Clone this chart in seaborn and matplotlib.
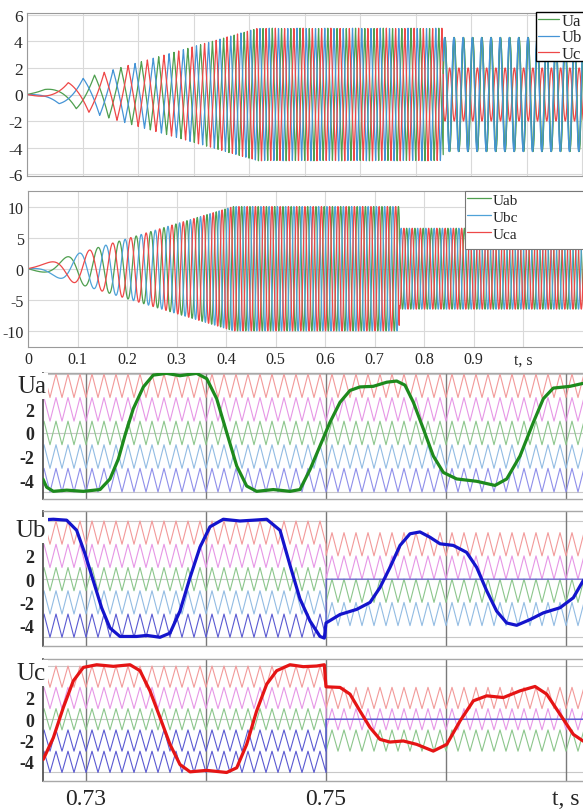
import numpy as np
import seaborn as sns
import matplotlib
matplotlib.use("Agg")
import matplotlib.pyplot as plt
from matplotlib.patches import Rectangle

# ---------------- values ----------------
ramp_end = 0.415      # s, V/f ramp ends (amplitude and frequency)
switch_t = 0.75       # s, disturbance
f_rated = 60.0        # Hz after the ramp

phase_names = ["Ua", "Ub", "Uc"]
phase_colors = ["#4f9f4f", "#4594d6", "#ee4848"]
phase_amp = [5.0, 5.0, 5.0]
phase_amp_after = [4.3, 4.3, 2.0]
phase_trough_cycle = [0.57, 0.24, 0.90]
phase_peak_cycle_after = [0.74, 0.70, 0.24]

line_names = ["Uab", "Ubc", "Uca"]
line_colors = ["#4f9f4f", "#4fa2d8", "#ee4848"]
line_amp = [10.0, 10.0, 10.0]
line_amp_after = [6.5, 6.5, 6.5]
line_peak_cycle = [0.45, 0.78, 0.115]

# PWM carriers of the lower panels (band = [low, low + 2])
carrier_colors = ["#f29a9a", "#e697e6", "#8cc68c", "#93bce3", "#8f8fea"]
carrier_freq = 1000.0
carrier_low_before = [3, 1, -1, -3, -5]
ua_carrier_low_after = [3, 1, -1, -3, -5]
ub_carrier_low_after = [2, 0, -2, -4, None]
uc_carrier_low_after = [1, -1, -3, None, None]

# reference waves (bold)
ua_t = [.7264, .72672, .72728, .72839, .72978, .73117, .732, .7327, .73325, .73394,
        .73478, .7356, .73672, .73783, .73922, .74006, .74089, .74172, .74256, .74339,
        .74422, .74561, .747, .74783, .74867, .7495, .75033, .75117, .752, .75283,
        .75394, .75506, .75589, .75658, .75728, .75811, .75894, .75978, .76089, .76256,
        .76408, .76506, .76617, .76728, .76811, .76894, .77033, .77142, .7725]
ua_v = [-3.9, -4.6, -4.95, -4.85, -4.95, -4.8, -3.9, -2.2, -0.2, 2.05,
        3.9, 4.9, 5.05, 4.85, 5.05, 4.6, 2.9, 0.05, -2.8, -4.5,
        -4.95, -4.8, -4.95, -4.8, -3.1, -1.1, 0.9, 2.6, 3.6, 3.9,
        3.95, 4.3, 4.4, 4.05, 2.6, 0.35, -1.95, -3.35, -3.9, -4.1,
        -4.45, -3.9, -1.95, 0.9, 2.9, 3.8, 3.95, 4.2, 4.3]

ub_t = [.7264, .72728, .72839, .72922, .72992, .73061, .7313, .732, .73283, .73422,
        .73506, .73617, .737, .73783, .73867, .7395, .74033, .74144, .74283, .74394,
        .74506, .74617, .747, .74783, .74867, .7495, .74986, .75, .75117, .75256,
        .75367, .7545, .75533, .75617, .757, .75783, .75867, .7595, .76061, .76172,
        .76256, .76339, .76422, .76506, .76589, .767, .76811, .7695, .77061, .77142, .7725]
ub_v = [5.1, 5.15, 5.07, 4.2, 2.17, -0.15, -2.46, -4.2, -4.93, -4.93,
        -4.84, -5.0, -4.64, -2.75, 0.14, 2.75, 4.5, 5.15, 5.0, 5.07,
        5.15, 4.2, 1.2, -1.7, -3.6, -4.93, -5.07, -3.77, -3.04, -2.6,
        -2.0, -0.72, 1.0, 2.9, 3.9, 4.06, 3.6, 3.04, 2.9, 2.3,
        1.0, -1.0, -2.75, -3.77, -3.97, -3.48, -2.9, -2.46, -1.6, -0.15, 1.0]

uc_t = [.72644, .72728, .72811, .72894, .72978, .73089, .73228, .73367, .7345, .73533,
        .73617, .737, .73783, .73867, .74006, .74172, .74256, .74339, .74422, .74506,
        .74589, .747, .74811, .74922, .74986, .75, .75117, .752, .75283, .75367,
        .7545, .75533, .75644, .75756, .75894, .76006, .76117, .76228, .76339, .76478,
        .76617, .76742, .76839, .7695, .77061, .77142, .7725]
uc_v = [-3.77, -1.73, 1.1, 3.6, 4.87, 5.12, 4.97, 5.12, 4.56, 2.67,
        0.16, -2.36, -4.25, -4.94, -4.8, -5.0, -4.56, -2.36, 0.78, 3.3,
        4.56, 5.12, 4.94, 5.0, 5.12, 3.05, 2.99, 2.36, 0.78, -0.78,
        -1.89, -2.14, -2.04, -2.36, -2.99, -2.36, -0.16, 1.73, 2.2, 2.04,
        2.67, 3.08, 2.36, 0.47, -1.42, -2.04, -2.6]

# ---------------- helpers ----------------
W, H = 583, 812


def px_axes(fig, left, top, right, bottom):
    return fig.add_axes([left / W, 1 - bottom / H, (right - left) / W, (bottom - top) / H])


def px_box(fig, left, top, right, bottom, edge, lw):
    # legend frame that runs past the right edge, as in the cropped original
    fig.patches.append(Rectangle((left / W, 1 - bottom / H), (right - left) / W, (bottom - top) / H,
                                 transform=fig.transFigure, facecolor="white", edgecolor=edge,
                                 linewidth=lw, zorder=20))


def cycles(t):
    return np.where(t < ramp_end, f_rated / (2 * ramp_end) * t ** 2, f_rated * (t - ramp_end / 2))


def ramp_env(t, amp, amp_after):
    return np.where(t < switch_t, amp * np.minimum(t / ramp_end, 1.0), amp_after)


def line(ax, x, y, **kw):
    sns.lineplot(x=x, y=y, ax=ax, estimator=None, sort=False, **kw)


sns.set_theme(style="white")
plt.rcParams["font.family"] = ["Liberation Serif", "DejaVu Serif"]

fig = plt.figure(figsize=(W / 100, H / 100), dpi=100)
grid_kw = dict(color="#d9d9d9", linewidth=0.8)
leg_kw = dict(loc="upper left", bbox_transform=fig.transFigure, frameon=False,
              borderpad=0, borderaxespad=0, handletextpad=0.15)

# ---------------- top: phase voltages ----------------
ax1 = px_axes(fig, 27, 14, 640, 177)
t1 = np.arange(0, 1.1, 5e-5)
n1 = cycles(t1)
sig1 = []
for i in range(3):
    tri = 1 - 4 * np.abs(((n1 - phase_trough_cycle[i]) % 1) - 0.5)
    sinus = np.cos(2 * np.pi * (n1 - phase_peak_cycle_after[i]))
    shape = np.where(t1 < switch_t, tri, sinus)
    sig1.append(ramp_env(t1, phase_amp[i], phase_amp_after[i]) * shape)
for i in range(3):
    line(ax1, t1, sig1[i], color=phase_colors[i], linewidth=0.9, label=phase_names[i])
after = t1 >= switch_t
for i in range(2):
    line(ax1, t1[after], sig1[i][after], color=phase_colors[i], linewidth=0.9)
ax1.set_xlim(0, (640 - 27) / 555)
ax1.set_ylim(-6.15, 6.15)
ax1.set_xticks(np.arange(0, 1.01, 0.1))
ax1.set_xticklabels([])
ax1.set_yticks(np.arange(-6, 7, 2))
ax1.set_yticklabels([str(v) for v in range(-6, 7, 2)], fontsize=12.5)
ax1.grid(True, **grid_kw)
ax1.tick_params(length=0, pad=3)
for s in ax1.spines.values():
    s.set_color("#9a9a9a")
    s.set_linewidth(0.8)
h, l = ax1.get_legend_handles_labels()
ax1.get_legend().remove()
px_box(fig, 536, 13, 640, 62, "black", 1.0)
leg = fig.legend(h[:3], l[:3], bbox_to_anchor=(538 / W, 1 - 14 / H), fontsize=12,
                 labelspacing=0.02, handlelength=1.25, **leg_kw)
leg.set_zorder(21)

# ---------------- middle: line voltages ----------------
ax2 = px_axes(fig, 28, 192, 640, 348)
t2 = np.arange(0, 1.3, 5e-5)
n2 = cycles(t2)
for i in range(3):
    y = ramp_env(t2, line_amp[i], line_amp_after[i]) * np.cos(2 * np.pi * (n2 - line_peak_cycle[i]))
    line(ax2, t2, y, color=line_colors[i], linewidth=0.9, label=line_names[i])
ax2.set_xlim(0, (640 - 28) / 495)
ax2.set_ylim(-12.6, 12.5)
ax2.set_xticks(np.arange(0, 1.01, 0.1))
ax2.set_xticklabels(["0"] + ["%.1f" % v for v in np.arange(0.1, 0.95, 0.1)] + ["t, s"], fontsize=11.5)
ax2.set_yticks([-10, -5, 0, 5, 10])
ax2.set_yticklabels(["-10", "-5", "0", "5", "10"], fontsize=11.5)
ax2.grid(True, **grid_kw)
ax2.tick_params(length=0, pad=3)
for s in ax2.spines.values():
    s.set_color("#9a9a9a")
    s.set_linewidth(0.8)
h2, l2 = ax2.get_legend_handles_labels()
ax2.get_legend().remove()
px_box(fig, 465, 192, 640, 250, "#777777", 0.8)
leg2 = fig.legend(h2, l2, bbox_to_anchor=(467 / W, 1 - 194 / H), fontsize=11,
                  labelspacing=0.22, handlelength=1.55, **leg_kw)
leg2.set_zorder(21)

# ---------------- lower: PWM carriers and references ----------------
t0_px = 86          # pixel of t = 0.73
px_per_s = 12000.0
tb = np.arange(0.7260, 0.7780, 1e-5)
frac = (tb * carrier_freq) % 1
tri01 = 1 - np.abs(2 * frac - 1)

panels = [
    ("Ua", (374, 500), (-5.6, 5.08), ua_carrier_low_after, ua_t, ua_v, "#1d8a1d", 4.0),
    ("Ub", (512, 647), (-5.75, 5.86), ub_carrier_low_after, ub_t, ub_v, "#1414cc", 4.25),
    ("Uc", (660, 782), (-5.8, 5.66), uc_carrier_low_after, uc_t, uc_v, "#e51414", 4.35),
]
for k, (name, (top, bot), ylim, low_after, rt, rv, rcol, ylab) in enumerate(panels):
    ax = px_axes(fig, 43, top, 640, bot)
    for j in range(5):
        after_part = 0.0 if low_after[j] is None else low_after[j] + 2 * tri01
        y = np.where(tb < switch_t, carrier_low_before[j] + 2 * tri01, after_part)
        col = "#5a5ad2" if low_after[j] is None else carrier_colors[j]
        line(ax, tb, y, color=col, linewidth=0.8)
    line(ax, rt, rv, color=rcol, linewidth=2.3, zorder=5)
    ax.set_xlim(0.73 - (t0_px - 43) / px_per_s, 0.73 + (640 - t0_px) / px_per_s)
    ax.set_ylim(*ylim)
    for yv in (-5, 0, 5):
        ax.axhline(yv, color="#c8c8c8", linewidth=0.8, zorder=0)
    for xv in (0.73, 0.74, 0.75, 0.76, 0.77):
        ax.axvline(xv, color="#7a7a7a", linewidth=1.0, zorder=0.5)
    ax.set_yticks([-4, -2, 0, 2])
    ax.set_yticklabels(["-4", "-2", "0", "2"], fontsize=13, fontweight="bold")
    ax.set_xticks([0.73, 0.74, 0.75, 0.76, 0.77])
    if k == 2:
        ax.set_xticklabels(["0.73", "", "0.75", "", "t, s"], fontsize=17)
    else:
        ax.set_xticklabels([])
    ax.tick_params(axis="y", length=0, pad=6)
    ax.tick_params(axis="x", length=0, pad=5)
    ax.spines["right"].set_visible(False)
    ax.spines["left"].set_color("#555555")
    ax.spines["left"].set_linewidth(1.3)
    for s in ("top", "bottom"):
        ax.spines[s].set_color("#a8a8a8")
        ax.spines[s].set_linewidth(1.0)
    ax.text(0.73 - (t0_px - 46) / px_per_s, ylab, name, ha="right", va="center", fontsize=18,
            clip_on=False, zorder=10,
            bbox=dict(facecolor="white", edgecolor="none", pad=1.5))
    if ax.get_legend() is not None:
        ax.get_legend().remove()

fig.savefig("out.png", dpi=100)
